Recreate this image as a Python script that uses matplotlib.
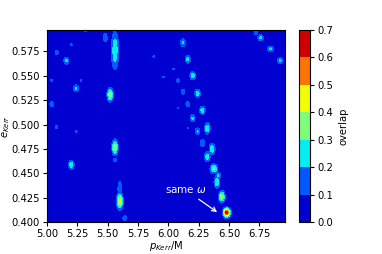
import numpy as np
import matplotlib
matplotlib.use('Agg')
import matplotlib.pyplot as plt

# overlap peaks: centre (p, e), peak overlap, widths
blob_p = [5.32, 5.48, 5.56, 5.20, 5.08, 5.16, 5.88, 5.96, 5.04, 5.28,
          5.24, 5.52, 5.04, 5.08, 5.24, 5.56, 5.56, 5.20, 5.60, 5.60,
          5.64, 5.00, 5.00, 5.00, 6.12, 6.16, 6.04, 6.20, 6.08, 6.12,
          6.24, 6.16, 6.08, 6.28, 6.20, 6.32, 6.16, 6.24, 6.28, 6.36,
          6.32, 6.375, 6.40, 6.44, 6.48, 6.72, 6.76, 6.84, 6.92, 6.41]
blob_e = [0.597, 0.589, 0.576, 0.582, 0.574, 0.5655, 0.570, 0.549, 0.5455, 0.5455,
          0.537, 0.5305, 0.521, 0.4975, 0.493, 0.4765, 0.4635, 0.4587, 0.4216, 0.434,
          0.404, 0.436, 0.420, 0.558, 0.584, 0.567, 0.557, 0.550, 0.545, 0.5336,
          0.532, 0.521, 0.517, 0.5146, 0.5064, 0.496, 0.4965, 0.493, 0.481, 0.475,
          0.467, 0.4546, 0.441, 0.426, 0.4096, 0.594, 0.589, 0.5775, 0.5655, 0.4475]
blob_amp = [0.14, 0.17, 0.28, 0.115, 0.15, 0.22, 0.115, 0.11, 0.115, 0.115,
            0.22, 0.36, 0.17, 0.13, 0.115, 0.37, 0.14, 0.26, 0.42, 0.2,
            0.16, 0.115, 0.115, 0.115, 0.22, 0.23, 0.115, 0.26, 0.14, 0.16,
            0.26, 0.17, 0.115, 0.26, 0.22, 0.27, 0.115, 0.21, 0.2, 0.27,
            0.25, 0.32, 0.3, 0.36, 0.66, 0.15, 0.22, 0.22, 0.22, 0.22]
blob_sx = [0.012, 0.013, 0.0175, 0.012, 0.013, 0.014, 0.012, 0.011, 0.012, 0.012,
           0.014, 0.014, 0.013, 0.012, 0.012, 0.014, 0.012, 0.014, 0.014, 0.011,
           0.013, 0.01, 0.01, 0.01, 0.014, 0.014, 0.012, 0.014, 0.012, 0.013,
           0.014, 0.013, 0.011, 0.014, 0.013, 0.014, 0.011, 0.013, 0.013, 0.015,
           0.014, 0.018, 0.014, 0.015, 0.016, 0.012, 0.016, 0.016, 0.016, 0.012]
blob_se = [0.0018, 0.0035, 0.0115, 0.0016, 0.002, 0.0024, 0.0016, 0.0015, 0.0016, 0.0016,
           0.0024, 0.004, 0.0022, 0.0017, 0.0016, 0.0045, 0.002, 0.0028, 0.0048, 0.0055,
           0.002, 0.0015, 0.0015, 0.0015, 0.0026, 0.0026, 0.0016, 0.0026, 0.0018, 0.002,
           0.0026, 0.0022, 0.0015, 0.0026, 0.0024, 0.0035, 0.0015, 0.0024, 0.0024, 0.0035,
           0.0032, 0.0028, 0.0035, 0.0034, 0.0026, 0.002, 0.002, 0.002, 0.002, 0.0025]

levels = [0.0, 0.1, 0.2, 0.3, 0.4, 0.5, 0.6, 0.7]

p = np.linspace(5.0, 6.96, 700)
e = np.linspace(0.400, 0.597, 500)
P, E = np.meshgrid(p, e)
overlap = np.zeros_like(P)
for x0, y0, a, sx, sy in zip(blob_p, blob_e, blob_amp, blob_sx, blob_se):
    sx, sy = 1.2 * sx, 1.2 * sy
    overlap = np.maximum(overlap, a * np.exp(-0.5 * (((P - x0) / sx) ** 2 + ((E - y0) / sy) ** 2)))

fig = plt.figure(figsize=(3.82, 2.54), dpi=100)
ax = fig.add_axes([0.123, 0.126, 0.623, 0.756])
cax = fig.add_axes([0.783, 0.126, 0.029, 0.756])

cs = ax.contourf(P, E, overlap, levels=levels, cmap='jet', vmin=0, vmax=0.7)
ax.set_xlim(5.0, 6.96)
ax.set_ylim(0.400, 0.597)
ax.set_xticks([5.0, 5.25, 5.5, 5.75, 6.0, 6.25, 6.5, 6.75])
ax.set_yticks([0.400, 0.425, 0.450, 0.475, 0.500, 0.525, 0.550, 0.575])
ax.xaxis.set_major_formatter(matplotlib.ticker.FormatStrFormatter('%.2f'))
ax.yaxis.set_major_formatter(matplotlib.ticker.FormatStrFormatter('%.3f'))
ax.tick_params(labelsize=7.2, length=3, pad=2)
ax.set_xlabel('$p_{Kerr}$/M', fontsize=7.2)
ax.set_ylabel('$e_{Kerr}$', fontsize=7.2)
ax.xaxis.set_label_coords(0.5, -0.09)
ax.yaxis.set_label_coords(-0.145, 0.5)

ax.annotate('same $\\omega$', xy=(6.42, 0.4085), xytext=(6.14, 0.433),
            color='white', fontsize=7.5, ha='center', va='center',
            arrowprops=dict(arrowstyle='->', color='white', lw=0.9))

cb = fig.colorbar(cs, cax=cax, ticks=levels)
cb.ax.tick_params(labelsize=7.2, length=3, pad=2)
cb.set_label('overlap', fontsize=7.2)

fig.savefig('out.png', dpi=100)
